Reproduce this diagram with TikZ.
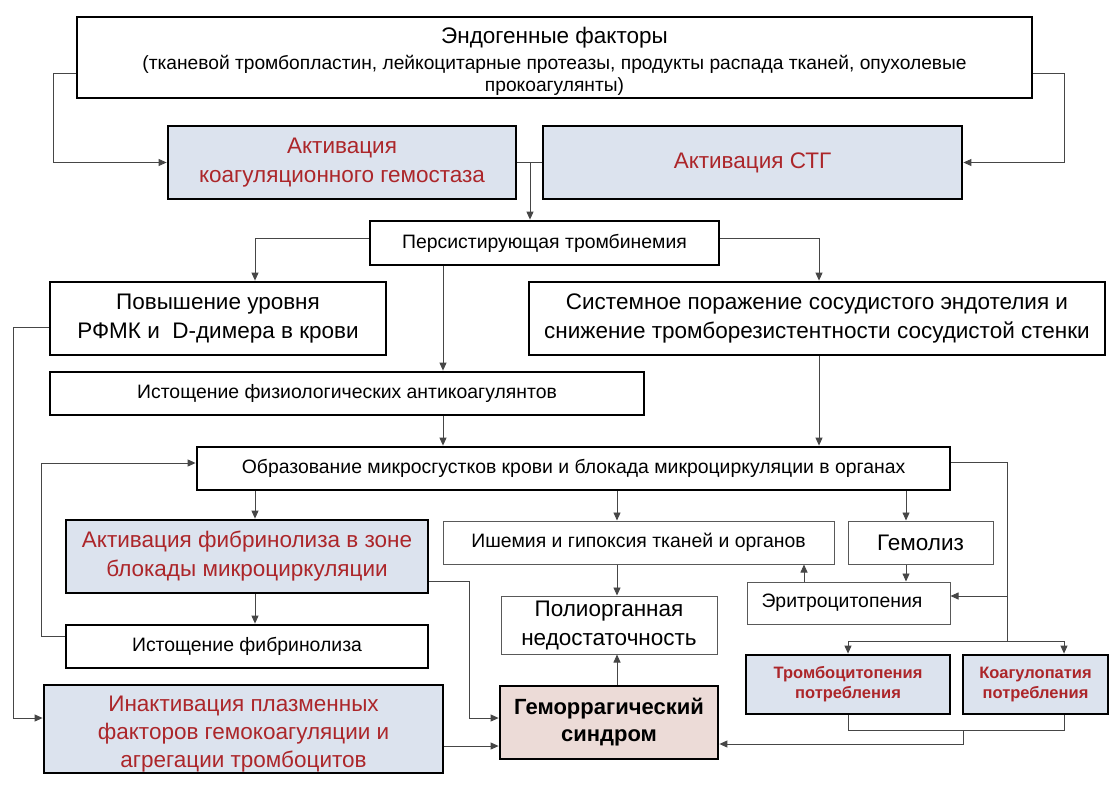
\documentclass[tikz,border=0pt]{standalone}
\usepackage{fontspec}
\setmainfont{Liberation Sans}
\usetikzlibrary{arrows.meta}
\definecolor{boxblue}{RGB}{220,227,238}
\definecolor{boxpink}{RGB}{236,219,215}
\definecolor{darkred}{RGB}{172,38,42}
\definecolor{linegray}{RGB}{70,70,70}
\begin{document}
\begin{tikzpicture}[x=1pt,y=-1pt,
  thickbox/.style={draw=black, line width=2.8pt, inner sep=0pt, align=center},
  thinbox/.style={draw=black!65, line width=1pt, inner sep=0pt, align=center},
  conn/.style={draw=linegray, line width=0.9pt},
  arr/.style={conn, -{Triangle[length=8pt,width=7pt]}},
  bigtxt/.style={font=\fontsize{22.5}{29}\selectfont},
  midtxt/.style={font=\fontsize{19.4}{23}\selectfont},
  redtxt/.style={text=darkred},
  boldsm/.style={font=\fontsize{16.5}{20}\selectfont\bfseries, text=darkred}
]
\useasboundingbox[fill=white] (0,0) rectangle (1115,790);

% nodes
\node[thickbox, minimum width=955, minimum height=81] (top) at (554.5,57.5) {};
\node[bigtxt] (toptitle) at (554.5,38) {Эндогенные факторы};
\node[font=\fontsize{19.2}{22}\selectfont, align=center] (topsub) at (554.5,75) {(тканевой тромбопластин, лейкоцитарные протеазы, продукты распада тканей, опухолевые\\прокоагулянты)};

\node[thickbox, fill=boxblue, bigtxt, redtxt, minimum width=348, minimum height=73] (coag) at (342,162.5) {Активация\\коагуляционного гемостаза};
\node[thickbox, fill=boxblue, bigtxt, redtxt, minimum width=419, minimum height=73] (stg) at (752.5,162.5) {Активация СТГ};
\node[thickbox, midtxt, minimum width=349, minimum height=44] (pers) at (544.5,243) {Персистирующая тромбинемия};
\node[thickbox, bigtxt, minimum width=336, minimum height=73] (pov) at (218,318.5) {Повышение уровня\\РФМК и\ \ D-димера в крови};
\node[thickbox, bigtxt, minimum width=576, minimum height=73] (sys) at (817,318.5) {Системное поражение сосудистого эндотелия и\\снижение тромборезистентности сосудистой стенки};
\node[thickbox, midtxt, minimum width=594, minimum height=43] (ist1) at (347,393.5) {Истощение физиологических антикоагулянтов};
\node[thickbox, midtxt, minimum width=753, minimum height=43] (obr) at (573.5,468.5) {Образование микросгустков крови и блокада микроциркуляции в органах};
\node[thickbox, fill=boxblue, bigtxt, redtxt, minimum width=362, minimum height=73] (afib) at (247,556.5) {Активация фибринолиза в зоне\\блокады микроциркуляции};
\node[thinbox, midtxt, minimum width=391, minimum height=43] (ish) at (638.5,542.5) {Ишемия и гипоксия тканей и органов};
\node[thinbox, bigtxt, minimum width=145, minimum height=43] (gem) at (920.5,542.5) {Гемолиз};
\node[thinbox, minimum width=203, minimum height=42] (eri) at (848.5,603) {};
\node[midtxt, anchor=west] (eritxt) at (758,603) {Эритроцитопения};
\node[thinbox, bigtxt, minimum width=216, minimum height=58] (pol) at (609,625) {Полиорганная\\недостаточность};
\node[thickbox, midtxt, minimum width=362, minimum height=43] (ist2) at (247,646.5) {Истощение фибринолиза};
\node[thickbox, fill=boxpink, font=\fontsize{22}{27}\selectfont\bfseries, minimum width=218, minimum height=73] (gemor) at (609,722.5) {Геморрагический\\синдром};
\node[thickbox, fill=boxblue, boldsm, minimum width=204, minimum height=59] (trom) at (848,684.5) {Тромбоцитопения\\потребления};
\node[thickbox, fill=boxblue, boldsm, minimum width=145, minimum height=59] (koag) at (1035.5,684.5) {Коагулопатия\\потребления};
\node[thickbox, fill=boxblue, minimum width=399, minimum height=88] (inak) at (243.5,729) {};
\node[redtxt, font=\fontsize{22.5}{28}\selectfont, align=center] (inaktxt) at (243.5,734) {Инактивация плазменных\\факторов гемокоагуляции и\\агрегации тромбоцитов};

% connectors
\draw[arr] (top.west |- 0,73) -| (53,162.5) -- (coag.west);
\draw[arr] (top.east |- 0,73) -| (1064,162.5) -- (stg.east);
\draw[conn] (coag.east) -- (stg.west);
\draw[arr] (coag.east -| 530,0) -- (pers.north -| 530,0);
\draw[arr] (pers.west |- 0,238) -| (pov.north -| 255,0);
\draw[arr] (pers.east |- 0,238) -| (sys.north -| 819,0);
\draw[arr] (pers.south -| 443,0) -- (ist1.north -| 443,0);
\draw[arr] (pov.west |- 0,327) -| (13,718) -- (inak.west |- 0,718);
\draw[arr] (ist1.south -| 443,0) -- (obr.north -| 443,0);
\draw[arr] (sys.south -| 819,0) -- (obr.north -| 819,0);
\draw[arr] (ist2.west |- 0,636) -| (41,463) -- (obr.west |- 0,463);
\draw[arr] (obr.south -| 255,0) -- (afib.north -| 255,0);
\draw[arr] (obr.south -| 617,0) -- (ish.north -| 617,0);
\draw[arr] (obr.south -| 906,0) -- (gem.north -| 906,0);
\draw[conn] (obr.east |- 0,462) -| (1007,641);
\draw[arr] (1007,596) -- (eri.east |- 0,596);
\draw[conn, {Triangle[length=8pt,width=7pt]}-{Triangle[length=8pt,width=7pt]}] (trom.north -| 848,0) |- (1064,641) -- (koag.north -| 1064,0);
\draw[arr] (afib.south -| 255,0) -- (ist2.north -| 255,0);
\draw[arr] (afib.east |- 0,581) -| (469,718) -- (gemor.west |- 0,718);
\draw[arr] (inak.east |- 0,746) -- (gemor.west |- 0,746);
\draw[arr] (ish.south -| 617,0) -- (pol.north -| 617,0);
\draw[arr] (gemor.north -| 617,0) -- (pol.south -| 617,0);
\draw[arr] (eri.north -| 804,0) -- (ish.south -| 804,0);
\draw[arr] (gem.south -| 906,0) -- (eri.north -| 906,0);
\draw[conn] (trom.south -| 848,0) |- (1064,730) -- (koag.south -| 1064,0);
\draw[arr] (963,730) |- (gemor.east |- 0,744);
\end{tikzpicture}
\end{document}
